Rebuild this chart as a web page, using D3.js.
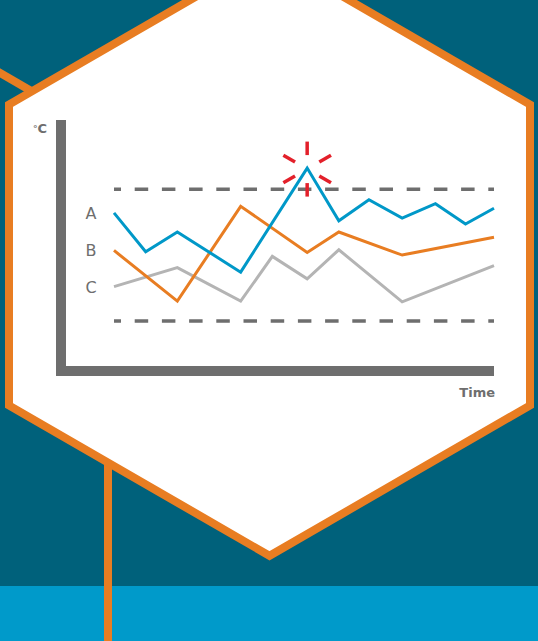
<!DOCTYPE html>
<html>
<head>
<meta charset="utf-8">
<script src="https://cdn.jsdelivr.net/npm/d3@7"></script>
<style>
  html, body { margin: 0; padding: 0; background: #00617B; }
  svg { display: block; }
</style>
</head>
<body>
<svg id="chart" width="538" height="641"></svg>
<script>
// ---- data ----
const timePoints = [0, 1, 2, 3, 4, 5, 6.1, 7.1, 8.05, 9.1, 10.15, 11.1, 12];
const seriesNames = ["A", "B", "C"];
const seriesA = [[0, 26.4], [1, 20.5], [2, 23.5], [4, 17.4], [6, 33.2], [7, 25.2], [8, 28.4], [9, 25.6], [10, 27.8], [11, 24.7], [12, 27.1]];
const seriesB = [[0, 20.7], [2, 13.0], [4, 27.4], [6, 20.4], [7, 23.5], [9, 20.0], [12, 22.7]];
const seriesC = [[0, 15.2], [2, 18.1], [4, 13.0], [5, 19.8], [6, 16.4], [7, 20.8], [9, 12.9], [12, 18.4]];
const thresholds = [30, 10];
const yDomain = [2.4, 40.5];
const yUnitDeg = "°";
const yUnitLetter = "C";
const xTitle = "Time";
const alertIndex = 6; // peak of series A

// ---- layout ----
const W = 538, H = 641;
const svg = d3.select("#chart");
const colors = { A: "#0098C8", B: "#E87D22", C: "#B4B4B4" };
const orange = "#E87D22";
const axisGray = "#6E6E6E";
const font = "'DejaVu Sans', Lato, sans-serif";

// background
svg.append("rect").attr("width", W).attr("height", H).attr("fill", "#00617B");
svg.append("rect").attr("x", 0).attr("y", 586).attr("width", W).attr("height", H - 586).attr("fill", "#009ACA");

// decorative connector lines
svg.append("line").attr("x1", -10).attr("y1", 67).attr("x2", 45).attr("y2", 99)
  .attr("stroke", orange).attr("stroke-width", 8);
svg.append("line").attr("x1", 108).attr("y1", 460).attr("x2", 108).attr("y2", H)
  .attr("stroke", orange).attr("stroke-width", 8);

// hexagon
const cx = 269.5, cy = 255, R = 300.8;
const hexPts = d3.range(6).map(i => {
  const a = Math.PI / 180 * (60 * i - 90);
  return [cx + R * Math.cos(a), cy + R * Math.sin(a)];
});
svg.append("path").attr("d", "M" + hexPts.join("L") + "Z")
  .attr("fill", "#ffffff").attr("stroke", orange).attr("stroke-width", 8)
  .attr("stroke-linejoin", "miter");

// scales
const x = d3.scaleLinear().domain([0, 12]).range([114, 494]);
const y = d3.scaleLinear().domain(yDomain).range([371, 120]);

// threshold dashed lines
svg.selectAll(".thr").data(thresholds).enter().append("line")
  .attr("x1", x(0)).attr("x2", x(12))
  .attr("y1", d => y(d)).attr("y2", d => y(d))
  .attr("stroke", axisGray).attr("stroke-width", 3.5)
  .attr("stroke-dasharray", "13.5,13.7").attr("stroke-dashoffset", 6.5);

// axes (thick bars)
const axisLeftX = 61;
svg.append("line").attr("x1", axisLeftX).attr("x2", axisLeftX)
  .attr("y1", y(yDomain[1])).attr("y2", y(yDomain[0]) + 5)
  .attr("stroke", axisGray).attr("stroke-width", 10);
svg.append("line").attr("x1", axisLeftX - 5).attr("x2", x(12))
  .attr("y1", y(yDomain[0])).attr("y2", y(yDomain[0]))
  .attr("stroke", axisGray).attr("stroke-width", 10);

// series lines
const line = d3.line().x(d => x(timePoints[d[0]])).y(d => y(d[1]));
const allSeries = [["A", seriesA], ["B", seriesB], ["C", seriesC]];
[...allSeries].reverse().forEach(([name, data]) => {
  svg.append("path").attr("d", line(data))
    .attr("fill", "none").attr("stroke", colors[name]).attr("stroke-width", 3)
    .attr("stroke-linejoin", "miter");
});

// series labels
allSeries.forEach(([name, data]) => {
  svg.append("text").attr("x", 91).attr("y", y(data[0][1]) + 6)
    .attr("text-anchor", "middle")
    .attr("font-family", font).attr("font-size", 16)
    .attr("fill", axisGray).text(name);
});

// alert burst
const peak = seriesA.find(d => d[0] === alertIndex);
const bx = x(timePoints[peak[0]]), by = y(peak[1]) + 1;
const rays = [30, 90, 150, 210, 270, 330];
svg.selectAll(".ray").data(rays).enter().append("line")
  .attr("x1", a => bx + 14 * Math.cos(a * Math.PI / 180))
  .attr("y1", a => by + 14 * Math.sin(a * Math.PI / 180))
  .attr("x2", a => bx + 27.5 * Math.cos(a * Math.PI / 180))
  .attr("y2", a => by + 27.5 * Math.sin(a * Math.PI / 180))
  .attr("stroke", "#E3202A").attr("stroke-width", 3.5);

// axis titles
const unit = svg.append("text").attr("x", 33).attr("y", 133)
  .attr("font-family", font).attr("font-weight", 700).attr("fill", axisGray);
unit.append("tspan").attr("font-size", 9).attr("dy", -1).text(yUnitDeg);
unit.append("tspan").attr("font-size", 13).attr("dy", 1).text(yUnitLetter);
svg.append("text").attr("x", x(12) + 1).attr("y", 397).attr("text-anchor", "end")
  .attr("font-family", font).attr("font-size", 13).attr("font-weight", 700)
  .attr("fill", axisGray).text(xTitle);
</script>
</body>
</html>
